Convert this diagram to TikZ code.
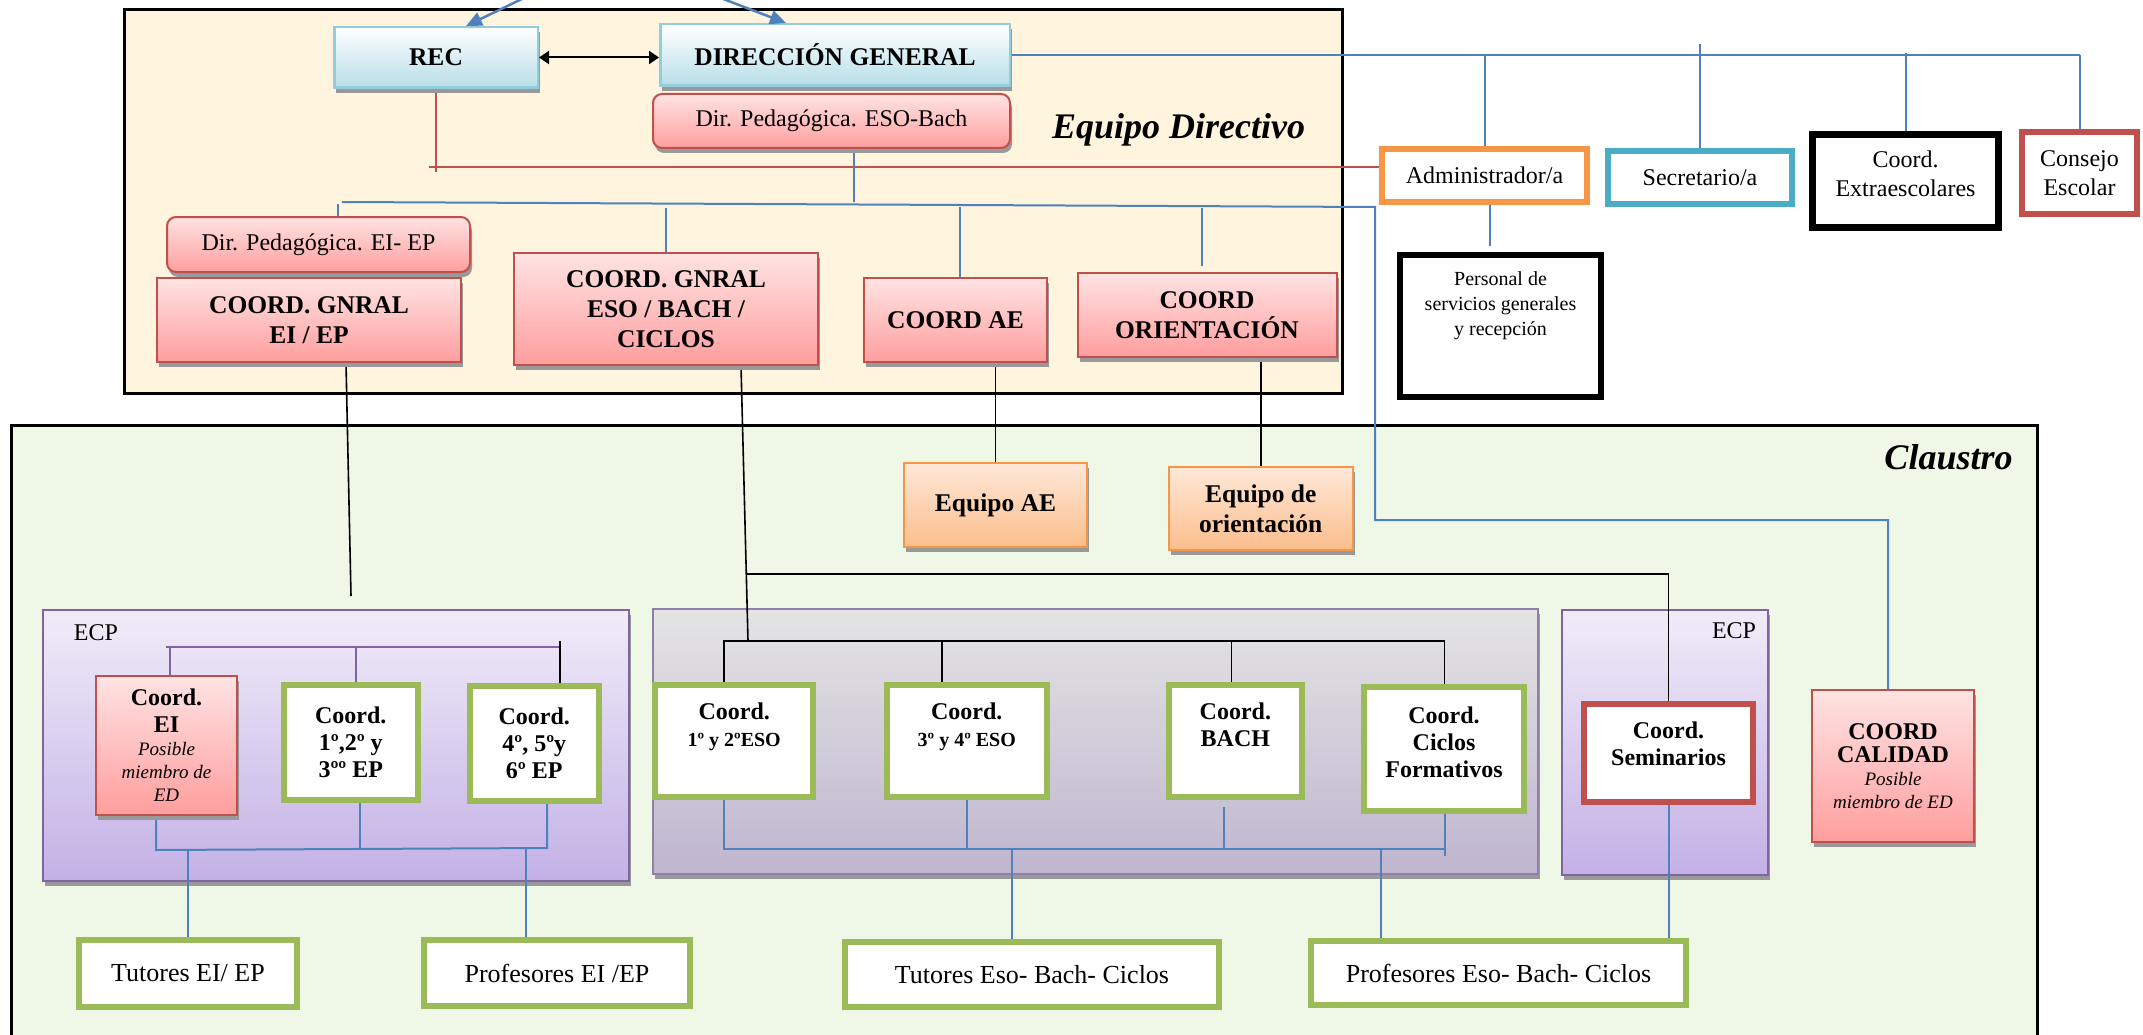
\documentclass[tikz,border=0pt]{standalone}
\usepackage{fontspec}
\setmainfont{Liberation Serif}
\usetikzlibrary{shadows,arrows.meta,calc}
\definecolor{cBlue}{HTML}{4F81BD}
\definecolor{cRed}{HTML}{C0504D}
\definecolor{cPurple}{HTML}{8064A2}
\definecolor{cGreen}{HTML}{9BBB59}
\definecolor{cOrange}{HTML}{F79646}
\definecolor{cTeal}{HTML}{4BACC6}
\definecolor{cCream}{HTML}{FFF5DF}
\definecolor{cMint}{HTML}{EFF7E6}
\definecolor{cLBlue}{HTML}{93CDDD}
\definecolor{cBlueBot}{HTML}{B7DEE8}
\definecolor{cRedTop}{HTML}{FFE3E3}
\definecolor{cRedBot}{HTML}{FF9E9E}
\definecolor{cOrTop}{HTML}{FFE8D8}
\definecolor{cOrBot}{HTML}{FBBE8C}
\definecolor{cPuTop}{HTML}{F1ECF8}
\definecolor{cPuBot}{HTML}{C3B1E6}
\definecolor{cGrTop}{HTML}{E4E4E4}
\definecolor{cGrBot}{HTML}{BFB5CF}
\definecolor{cGrBorder}{HTML}{8E80A8}
\newcommand\myTitle{\fontsize{36}{40}\selectfont\bfseries\itshape}
\newcommand\myBold{\fontsize{25.5}{30}\selectfont\bfseries\upshape}
\newcommand\myReg{\fontsize{24}{29}\selectfont}
\newcommand\mySmall{\fontsize{20}{25}\selectfont}
\newcommand\myCo{\fontsize{24}{27}\selectfont\bfseries\upshape}
\newcommand\myCoS{\fontsize{20}{27}\selectfont\bfseries\upshape}
\newcommand\myIt{\fontsize{19}{23}\selectfont\mdseries\itshape}
\newcommand\myBig{\fontsize{26}{30}\selectfont}
\pgfdeclarelayer{bg}
\pgfdeclarelayer{lines}
\pgfsetlayers{bg,lines,main}
\tikzset{
 obox/.style={draw, inner sep=2pt, align=center},
 shad/.style={drop shadow={shadow xshift=2pt,shadow yshift=-5pt,fill=black!40,opacity=1}},
 bluebox/.style={obox, shad, draw=cLBlue, line width=2.5pt, top color=white, bottom color=cBlueBot, font=\myBold},
 redbox/.style={obox, shad, draw=cRed, line width=2pt, top color=cRedTop, bottom color=cRedBot},
 orbox/.style={obox, shad, draw=cOrange, line width=2pt, top color=cOrTop, bottom color=cOrBot, font=\myBold},
 purplebox/.style={obox, shad, draw=cPurple, line width=2pt, top color=cPuTop, bottom color=cPuBot},
 graybox/.style={obox, shad, draw=cGrBorder, line width=2pt, top color=cGrTop, bottom color=cGrBot},
 greenbox/.style={obox, draw=cGreen, line width=6pt, fill=white},
 thickbox/.style={obox, line width=6pt, fill=white, font=\myReg},
 bline/.style={draw=cBlue, line width=2pt},
 kline/.style={draw=black, line width=1.6pt},
 rline/.style={draw=cRed, line width=2.5pt},
 pline/.style={draw=cPurple, line width=2pt},
 txt/.style={inner sep=0pt, align=center},
}
\begin{document}
\begin{tikzpicture}[x=1pt,y=-1pt]
\useasboundingbox (0,0) rectangle (2143,1035);

\begin{pgfonlayer}{bg}
\node[obox, draw=black, line width=3pt, fill=cMint, minimum width=2026pt, minimum height=660pt, anchor=north west] (claustro) at (9.5,423.5) {};
\node[obox, draw=black, line width=3.5pt, fill=cCream, minimum width=1218pt, minimum height=384pt, anchor=north west] (edbox) at (122.75,7.75) {};
\node[purplebox, minimum width=586pt, minimum height=271pt] (ecpA) at (336,745.5) {};
\node[graybox, minimum width=885pt, minimum height=265pt] (esobox) at (1095.75,741.5) {};
\node[purplebox, minimum width=206pt, minimum height=265pt] (ecpB) at (1665,742.5) {};
\end{pgfonlayer}

% titles
\node[txt, font=\myTitle] (edt) at (1178.5,130) {Equipo Directivo};
\node[txt, font=\myTitle] (clt) at (1948.5,457) {Claustro};
\node[txt, font=\myReg] (ecpAt) at (96,633) {ECP};
\node[txt, font=\myReg] (ecpBt) at (1734,631) {ECP};

% Equipo directivo
\node[bluebox, minimum width=203.5pt, minimum height=60.5pt] (REC) at (436,57.5) {REC};
\node[bluebox, minimum width=349.5pt, minimum height=61.5pt] (DG) at (835,55) {DIRECCIÓN GENERAL};
\node[redbox, rounded corners=9pt, minimum width=357pt, minimum height=54pt, font=\myReg] (DPESO) at (831.5,121) {Dir. Pedagógica. ESO-Bach};
\node[redbox, rounded corners=9pt, minimum width=303pt, minimum height=55pt, font=\myReg] (DPEI) at (318.5,244.5) {Dir. Pedagógica. EI- EP};
\node[redbox, minimum width=304pt, minimum height=84pt, font=\myBold] (CGEI) at (309,320) {COORD. GNRAL\\EI / EP};
\node[redbox, minimum width=304pt, minimum height=112pt, font=\myBold] (CGESO) at (666,309) {COORD. GNRAL\\ESO / BACH /\\CICLOS};
\node[redbox, minimum width=183pt, minimum height=84pt, font=\myBold] (CAE) at (955.5,320) {COORD AE};
\node[redbox, minimum width=259pt, minimum height=84pt, font=\myBold] (COR) at (1207,315) {COORD\\ORIENTACIÓN};

% right column
\node[thickbox, draw=cOrange, minimum width=205pt, minimum height=53pt] (Admin) at (1484.5,175.5) {Administrador/a};
\node[thickbox, draw=cTeal, minimum width=184pt, minimum height=53pt] (Secr) at (1700,177.5) {Secretario/a};
\node[thickbox, draw=black, line width=7pt, minimum width=186pt, minimum height=93pt] (Extra) at (1905.5,181) {};
\node[txt, font=\myReg] (Extrat) at (1905.5,174) {Coord.\\Extraescolares};
\node[thickbox, draw=cRed, minimum width=115pt, minimum height=82pt] (Consejo) at (2079.5,173) {Consejo\\Escolar};
\node[thickbox, draw=black, minimum width=201pt, minimum height=142pt] (Personal) at (1500.5,326) {};
\node[txt, font=\mySmall] (Personalt) at (1500.5,306) {Personal de\\servicios generales\\y recepción};

% claustro
\node[orbox, minimum width=183pt, minimum height=84pt] (EqAE) at (995.5,505) {Equipo AE};
\node[orbox, minimum width=183.5pt, minimum height=83pt] (EqOr) at (1260.75,508.5) {Equipo de\\orientación};

\node[redbox, minimum width=141pt, minimum height=139pt, font=\myIt] (CEI) at (166.5,745.5) {\myCo Coord.\\[4pt]\myCo EI\\\myIt Posible\\\myIt miembro de\\\myIt ED};
\node[greenbox, minimum width=134pt, minimum height=115pt, font=\myCo] (C123) at (350.8,742.5) {Coord.\\1º,2º y\\3ºº EP};
\node[greenbox, minimum width=129.5pt, minimum height=115pt, font=\myCo] (C456) at (534.25,743.5) {Coord.\\4º, 5ºy\\6º EP};

\node[greenbox, minimum width=157.6pt, minimum height=112.5pt] (C12ESO) at (734.2,740.75) {};
\node[txt, font=\myCo] (C12ESOt) at (734.2,727) {\myCo Coord.\\\myCoS 1º y 2ºESO};
\node[greenbox, minimum width=159.5pt, minimum height=112.5pt] (C34ESO) at (966.75,740.75) {};
\node[txt, font=\myCo] (C34ESOt) at (966.75,727) {\myCo Coord.\\\myCoS 3º y 4º ESO};
\node[greenbox, minimum width=132.7pt, minimum height=112.5pt] (CBACH) at (1235.35,740.75) {};
\node[txt, font=\myCo] (CBACHt) at (1235.35,725) {Coord.\\BACH};
\node[greenbox, minimum width=160pt, minimum height=124.5pt] (CCF) at (1444,748.75) {};
\node[txt, font=\myCo] (CCFt) at (1444,742) {Coord.\\Ciclos\\Formativos};
\node[thickbox, draw=cRed, minimum width=169pt, minimum height=98pt] (CSem) at (1668.5,753) {};
\node[txt, font=\myCo] (CSemt) at (1668.5,743.5) {Coord.\\Seminarios};
\node[redbox, minimum width=162pt, minimum height=152pt, font=\myIt] (CCal) at (1893,766) {\myCo COORD\\\myCo CALIDAD\\\myIt Posible\\\myIt miembro de ED};

\node[greenbox, minimum width=218pt, minimum height=67pt, font=\myBig] (TutEI) at (188,973.5) {Tutores EI/ EP};
\node[greenbox, minimum width=266pt, minimum height=66pt, font=\myBig] (ProfEI) at (557,973) {Profesores EI /EP};
\node[greenbox, minimum width=374pt, minimum height=65pt, font=\myBig] (TutESO) at (1032,974.5) {Tutores Eso- Bach- Ciclos};
\node[greenbox, minimum width=375pt, minimum height=64pt, font=\myBig] (ProfESO) at (1498.5,973) {Profesores Eso- Bach- Ciclos};

% arrows in main layer
\coordinate (topA) at (526,-3);
\coordinate (topB) at (718,-3);
\draw[bline, line width=2.5pt, -{Triangle[length=16pt,width=14pt]}] (topA) -- ([xshift=30pt]REC.north);
\draw[bline, line width=2.5pt, -{Triangle[length=16pt,width=14pt]}] (topB) -- ([xshift=-49pt]DG.north);
\draw[kline, line width=2pt, {Triangle[length=10pt,width=13pt]}-{Triangle[length=10pt,width=13pt]}] (REC.east) -- (DG.west |- REC.east);

\begin{pgfonlayer}{lines}
% red
\coordinate (redL) at (429,167);
\draw[rline] (REC.south) -- ($(REC.south |- redL)+(0,5)$);
\draw[rline] (redL) -- (Admin.west |- redL);
% ED blue bus
\coordinate (edbL) at (342,202);
\coordinate (edbR) at (1375,207);
\coordinate (calturn) at (1375,520);
\draw[bline] (edbL) -- (edbR) -- (calturn) -| ([xshift=-5pt]CCal.north);
\draw[bline] ([xshift=22.5pt]DPESO.south) -- ([xshift=22.5pt]DPESO.south |- edbL);
\draw[bline] ([xshift=19pt]DPEI.north) -- ++(0,-12);
\draw[bline] (CGESO.north) -- ++(0,-44);
\draw[bline] ([xshift=4.5pt]CAE.north) -- ++(0,-70);
\draw[bline] ($(COR.north)+(-5,-6)$) -- ++(0,-58);
% right bus
\coordinate (busR) at (2080,55);
\draw[bline] (DG.east) -- (busR);
\draw[bline] (Admin.north) -- (Admin.north |- busR);
\draw[bline] (Secr.north) -- ++(0,-104);
\draw[bline] (Extra.north) -- ++(0,-78);
\draw[bline] (Consejo.north) -- (Consejo.north |- busR);
\draw[bline] ([xshift=5pt]Admin.south) -- ++(0,41);
% ED to claustro
\coordinate (eiDrop) at (351,596);
\draw[kline] ([xshift=37pt]CGEI.south) -- (eiDrop);
\coordinate (esoJ) at (748,641);
\draw[kline] ([xshift=75pt]CGESO.south) -- (esoJ);
\coordinate (semJ) at (746,574);
\draw[kline] (semJ) -| (CSem.north);
\draw[kline] (EqAE.north |- CAE.south) -- (EqAE.north);
\draw[kline] (EqOr.north |- COR.south) -- (EqOr.north);
% ECP A
\coordinate (pbL) at (166,647);
\coordinate (pbR) at (560,647);
\draw[pline] (pbL) -- (pbR);
\draw[pline] ([xshift=3.5pt]CEI.north) -- ([xshift=3.5pt]CEI.north |- pbL);
\draw[pline] ([xshift=5pt]C123.north) -- ([xshift=5pt]C123.north |- pbL);
\draw[kline] (pbR |- C456.north) -- ($(pbR)+(0,-6)$);
\coordinate (ebL) at (156,850);
\coordinate (ebR) at (547,848);
\draw[bline] (CEI.south -| ebL) -- (ebL) -- (ebR) -- (ebR |- C456.south);
\draw[bline] ([xshift=9pt]C123.south) -- ([xshift=9pt]C123.south |- ebL);
\draw[bline] (TutEI.north) -- (TutEI.north |- ebL);
\draw[bline] ([xshift=-31pt]ProfEI.north) -- ([xshift=-31pt]ProfEI.north |- ebR);
% ESO box
\coordinate (kbL) at (724,641);
\coordinate (kbR) at (1444.5,641);
\draw[kline] (kbL |- C12ESO.north) -- (kbL) -- (kbR) -- (kbR |- CCF.north);
\draw[kline] ([xshift=-25pt]C34ESO.north) -- ([xshift=-25pt]C34ESO.north |- kbL);
\draw[kline] ([xshift=-4pt]CBACH.north) -- ([xshift=-4pt]CBACH.north |- kbL);
\coordinate (bbL) at (724,849);
\coordinate (bbR) at (1444.5,849);
\draw[bline] (bbL |- C12ESO.south) -- (bbL) -- (bbR) -- (bbR |- CCF.south);
\draw[bline] (bbR) -- ++(0,7);
\draw[bline] (C34ESO.south) -- (C34ESO.south |- bbL);
\draw[bline] ($(CBACH.south)+(-11,7)$) -- ([xshift=-11pt]CBACH.south |- bbL);
\draw[bline] ([xshift=-20.5pt]TutESO.north) -- ([xshift=-20.5pt]TutESO.north |- bbL);
\draw[bline] ([xshift=-118pt]ProfESO.north) -- ([xshift=-118pt]ProfESO.north |- bbL);
\draw[bline] (CSem.south) -- (CSem.south |- ProfESO.north);
\end{pgfonlayer}
\end{tikzpicture}
\end{document}
